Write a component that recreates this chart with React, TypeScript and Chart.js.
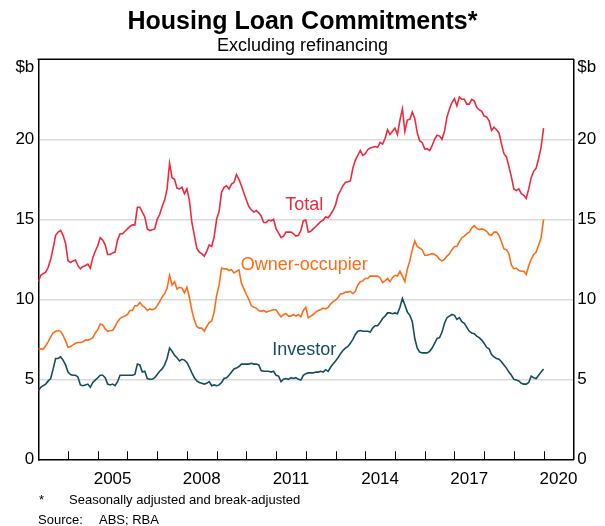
import React, { useEffect, useRef } from "react";
import { Chart, registerables } from "chart.js";

Chart.register(...registerables);

const START_YEAR = 2003;
const END_YEAR = 2021;
const LABEL_YEARS = [2005, 2008, 2011, 2014, 2017, 2020];
const Y_TICKS = [0, 5, 10, 15, 20];

const TOTAL = [
  11.1, 11.5, 11.6, 11.7, 12.0, 12.5, 13.2, 14.0, 14.2, 14.3,
  14.0, 13.5, 12.4, 12.3, 12.4, 12.45, 12.1, 11.9, 12.05, 12.1,
  12.2, 11.95, 12.6, 13.0, 13.35, 13.85, 13.7, 13.4, 12.8, 12.8,
  12.9, 12.95, 13.7, 14.1, 14.1, 14.25, 14.4, 14.55, 14.65, 14.65,
  15.75, 15.75, 15.45, 15.15, 14.4, 14.3, 14.35, 14.4, 15.0, 15.3,
  15.8, 16.2, 16.9, 18.5, 17.6, 17.5, 16.95, 16.9, 17.0, 16.6,
  16.9, 16.2, 14.8, 14.0, 13.2, 12.95, 12.85, 12.7, 13.0, 13.4,
  13.3, 13.9, 15.0, 15.5, 16.7, 17.0, 17.1, 16.9, 17.2, 17.3,
  17.8, 17.5, 17.1, 16.65, 16.2, 15.8, 15.6, 15.45, 15.55, 15.4,
  15.2, 14.8, 14.8, 14.95, 14.9, 15.0, 14.4, 14.15, 13.85, 13.95,
  14.2, 14.2, 14.2, 14.1, 13.95, 14.0, 14.3, 14.9, 14.95, 14.2,
  14.25, 14.4, 14.55, 14.7, 14.85, 14.95, 15.15, 15.1, 15.3, 15.55,
  15.9, 16.5, 16.8, 17.1, 17.3, 17.35, 17.4, 18.2, 18.7, 19.0,
  19.3, 19.0, 19.1, 19.35, 19.45, 19.5, 19.55, 19.5, 19.8, 19.7,
  20.05, 20.6, 20.3, 20.5, 20.7, 20.3, 21.2, 21.9, 20.5, 21.2,
  21.25, 21.7, 21.3, 20.4, 19.9, 19.8, 19.4, 19.4, 19.3, 19.6,
  20.0, 20.25, 20.2, 20.0, 20.5, 21.4, 21.9, 22.3, 22.55, 22.1,
  22.65, 22.5, 22.5, 22.2, 22.2, 22.5, 22.4, 22.0, 21.85, 21.75,
  21.45, 21.4, 21.15, 20.55, 20.75, 20.6, 20.4, 19.7, 19.1, 18.9,
  18.3, 17.65, 16.9, 16.8, 16.9, 16.6, 16.5, 16.3, 16.9, 17.6,
  18.0, 18.2, 18.8, 19.5, 20.7,
];

const OWNER = [
  6.9, 6.9, 6.88, 7.1, 7.35, 7.65, 7.9, 8.0, 8.05, 8.0,
  7.75, 7.4, 7.0, 7.05, 7.15, 7.25, 7.3, 7.3, 7.35, 7.45,
  7.45, 7.5, 7.6, 7.9, 8.1, 8.45, 8.4, 8.15, 8.0, 8.05,
  8.05, 8.3, 8.6, 8.8, 8.9, 8.95, 9.05, 9.3, 9.3, 9.6,
  9.6, 9.8, 9.6, 9.5, 9.3, 9.4, 9.35, 9.4, 9.6, 9.85,
  10.15, 10.35, 10.7, 11.5, 10.9, 11.1, 10.65, 10.75, 10.7, 10.4,
  10.75, 10.1, 9.3, 8.7, 8.3, 8.2, 8.2, 8.0, 8.3, 8.55,
  8.65, 9.2, 10.25, 10.9, 11.95, 11.9, 11.9, 11.8, 11.85, 11.65,
  11.75, 11.85, 11.0, 10.65, 10.3, 10.0, 9.6, 9.5, 9.45, 9.3,
  9.25, 9.3, 9.2, 9.25, 9.3, 9.35, 9.35, 9.1, 8.9, 9.05,
  9.1, 8.95, 8.95, 9.05, 8.95, 9.05, 8.9, 9.3, 9.5, 8.85,
  8.95, 9.05, 9.2, 9.3, 9.35, 9.45, 9.4, 9.5, 9.7, 9.85,
  9.95, 10.1, 10.35, 10.35, 10.45, 10.45, 10.5, 10.35, 10.5, 10.9,
  11.1, 11.15, 11.3, 11.3, 11.45, 11.45, 11.45, 11.45, 11.35, 11.05,
  11.15, 11.3, 11.1, 11.35, 11.5, 11.45, 11.75, 11.45, 11.1, 11.9,
  12.4, 13.1, 13.65, 13.3, 13.2, 13.1, 12.75, 12.75, 12.8, 12.85,
  12.8, 12.7, 12.5, 12.4, 12.5, 12.7, 12.85, 13.1, 13.3, 13.3,
  13.6, 13.85, 13.95, 14.1, 14.2, 14.45, 14.6, 14.45, 14.35, 14.4,
  14.35, 14.25, 14.05, 14.0, 14.2, 14.2, 14.0, 13.6, 13.15, 13.1,
  12.85, 12.15, 11.9, 11.95, 11.8, 11.75, 11.75, 11.55, 12.1, 12.5,
  12.8, 12.95, 13.4, 13.85, 15.0,
];

const INVESTOR = [
  4.3, 4.5, 4.6, 4.7, 4.9, 5.05, 5.65, 6.3, 6.3, 6.4,
  6.2, 5.9, 5.45, 5.3, 5.25, 5.25, 5.15, 4.65, 4.6, 4.65,
  4.7, 4.5, 4.8, 4.95, 5.1, 5.25, 5.25, 5.1, 4.7, 4.65,
  4.7, 4.6, 4.85, 5.25, 5.25, 5.25, 5.25, 5.25, 5.25, 5.3,
  5.95, 5.9, 5.45, 5.5, 5.05, 5.0, 5.0, 5.1, 5.3, 5.5,
  5.65, 5.9, 6.3, 6.95, 6.75, 6.5, 6.35, 6.15, 6.25, 6.2,
  6.05, 5.75, 5.4, 5.1, 4.9, 4.8, 4.75, 4.7, 4.75, 4.85,
  4.6, 4.65, 4.6, 4.65, 4.8, 5.05, 5.1, 5.25, 5.45, 5.65,
  5.7, 5.8, 5.95, 5.95, 5.95, 5.95, 6.0, 5.95, 5.95, 5.9,
  5.55, 5.5, 5.5, 5.5, 5.45, 5.5, 5.25, 5.2, 4.85, 5.0,
  5.05, 5.0, 5.1, 5.05, 5.1, 5.0, 4.95, 5.25, 5.35, 5.4,
  5.4, 5.4, 5.45, 5.45, 5.5, 5.45, 5.6, 5.5, 5.75, 5.95,
  6.15, 6.35, 6.6, 6.8, 6.95, 7.05, 7.25, 7.5, 7.8, 8.0,
  8.05, 8.0, 8.0, 8.0, 7.95, 8.2, 8.35, 8.35, 8.55, 8.8,
  8.95, 9.15, 9.15, 9.1, 9.15, 9.1, 9.5, 10.05, 9.65, 9.2,
  9.0, 8.6, 7.55, 6.95, 6.7, 6.65, 6.65, 6.65, 6.75, 6.95,
  7.25, 7.55, 7.6, 7.95, 8.5, 8.85, 8.95, 9.05, 9.0, 8.75,
  8.85, 8.6, 8.5, 8.25, 8.0, 7.9, 7.85, 7.7, 7.6, 7.45,
  7.25, 7.0, 6.9, 6.55, 6.4, 6.3, 6.25, 6.1, 5.9, 5.7,
  5.45, 5.25, 5.0, 4.95, 4.9, 4.75, 4.7, 4.7, 4.8, 5.2,
  5.1, 5.05, 5.25, 5.45, 5.65,
];

const SERIES_NAMES = ["Total", "Owner-occupier", "Investor"];
const COLORS = ["#ec2b3c", "#ff6c17", "#144e5e"];

const FONT = "'Liberation Sans', Arial, Helvetica, sans-serif";

const toPoints = (arr: number[]) =>
  arr.map((v, i) => ({ x: START_YEAR + i / 12, y: v }));

const overlayPlugin = {
  id: "overlay",
  afterDraw(chart: any) {
    const { ctx, chartArea, scales } = chart;
    const x = scales.x;
    const y = scales.y;
    ctx.save();
    // top border
    ctx.strokeStyle = "#000";
    ctx.lineWidth = 1.5;
    ctx.beginPath();
    ctx.moveTo(chartArea.left - 0.75, chartArea.top);
    ctx.lineTo(chartArea.right + 0.75, chartArea.top);
    ctx.stroke();
    // year tick marks (inside, pointing up)
    ctx.lineWidth = 1;
    ctx.strokeStyle = "#000";
    for (let yr = START_YEAR + 1; yr < END_YEAR; yr++) {
      const px = Math.round(x.getPixelForValue(yr)) + 0.5;
      ctx.beginPath();
      ctx.moveTo(px, chartArea.bottom);
      ctx.lineTo(px, chartArea.bottom - 8);
      ctx.stroke();
    }
    // $b unit labels
    ctx.fillStyle = "#000";
    ctx.font = `17px ${FONT}`;
    ctx.textBaseline = "middle";
    ctx.textAlign = "right";
    ctx.fillText("$b", chartArea.left - 4, chartArea.top + 8);
    ctx.textAlign = "left";
    ctx.fillText("$b", chartArea.right + 4, chartArea.top + 8);
    // titles
    ctx.textAlign = "center";
    ctx.font = `bold 25px ${FONT}`;
    ctx.fillText("Housing Loan Commitments*", 302.5, 22);
    ctx.font = `18px ${FONT}`;
    ctx.fillText("Excluding refinancing", 302.5, 46);
    // series labels
    ctx.font = `18px ${FONT}`;
    const lbls = [
      { t: SERIES_NAMES[0], c: COLORS[0], yr: 2011.95, v: 15.88 },
      { t: SERIES_NAMES[1], c: COLORS[1], yr: 2011.95, v: 12.13 },
      { t: SERIES_NAMES[2], c: COLORS[2], yr: 2011.95, v: 6.83 },
    ];
    for (const l of lbls) {
      ctx.fillStyle = l.c;
      ctx.fillText(l.t, x.getPixelForValue(l.yr), y.getPixelForValue(l.v));
    }
    // footnotes
    ctx.fillStyle = "#000";
    ctx.font = `13px ${FONT}`;
    ctx.textAlign = "left";
    ctx.fillText("*", 39, 500);
    ctx.fillText("Seasonally adjusted and break-adjusted", 69, 500);
    ctx.fillText("Source:", 38, 520);
    ctx.fillText("ABS; RBA", 99, 520);
    ctx.restore();
  },
};

export default function App() {
  const ref = useRef<HTMLCanvasElement | null>(null);
  useEffect(() => {
    if (!ref.current) return;
    const tickFont = { family: FONT, size: 17 };
    const yCommon = {
      min: 0,
      max: 25,
      afterBuildTicks: (axis: any) => {
        axis.ticks = Y_TICKS.map((v) => ({ value: v }));
      },
      ticks: {
        font: tickFont,
        color: "#000",
        padding: 4,
        callback: (v: any) => String(v),
      },
    };
    const chart = new Chart(ref.current, {
      type: "line",
      data: {
        datasets: [TOTAL, OWNER, INVESTOR].map((arr, i) => ({
          label: SERIES_NAMES[i],
          data: toPoints(arr),
          borderColor: COLORS[i],
          backgroundColor: COLORS[i],
          borderWidth: 1.6,
          pointRadius: 0,
          tension: 0,
          fill: false,
        })),
      },
      options: {
        responsive: false,
        animation: false,
        layout: { padding: { top: 59.3, left: 0, right: 0, bottom: 0 } },
        plugins: {
          legend: { display: false },
          tooltip: { enabled: false },
          title: { display: false },
        },
        scales: {
          x: {
            type: "linear",
            min: START_YEAR,
            max: END_YEAR,
            afterBuildTicks: (axis: any) => {
              axis.ticks = LABEL_YEARS.map((yr) => ({ value: yr + 0.5 }));
            },
            ticks: {
              font: tickFont,
              color: "#000",
              padding: 10,
              maxRotation: 0,
              autoSkip: false,
              callback: (v: any) => String(Math.floor(v)),
            },
            grid: { display: false, drawTicks: false },
            border: { display: true, color: "#000", width: 1.5 },
            afterFit: (s: any) => {
              s.height = 526 - 459.3;
            },
          },
          y: {
            ...yCommon,
            position: "left",
            grid: {
              drawTicks: false,
              lineWidth: 1.5,
              color: (c: any) =>
                c.tick && c.tick.value > 0 && c.tick.value < 25 ? "#dadada" : "rgba(0,0,0,0)",
            },
            border: { display: true, color: "#000", width: 1.5 },
            afterFit: (s: any) => {
              s.width = 38.3;
            },
          },
          y2: {
            ...yCommon,
            position: "right",
            grid: { display: false, drawTicks: false },
            border: { display: true, color: "#000", width: 1.5 },
            afterFit: (s: any) => {
              s.width = 605 - 573.3;
            },
          },
        },
      } as any,
      plugins: [overlayPlugin],
    });
    return () => chart.destroy();
  }, []);
  return (
    <div
      style={{
        position: "fixed",
        left: 0,
        top: 0,
        width: 605,
        height: 526,
        background: "#fff",
      }}
    >
      <canvas ref={ref} width={605} height={526} style={{ display: "block" }} />
    </div>
  );
}
